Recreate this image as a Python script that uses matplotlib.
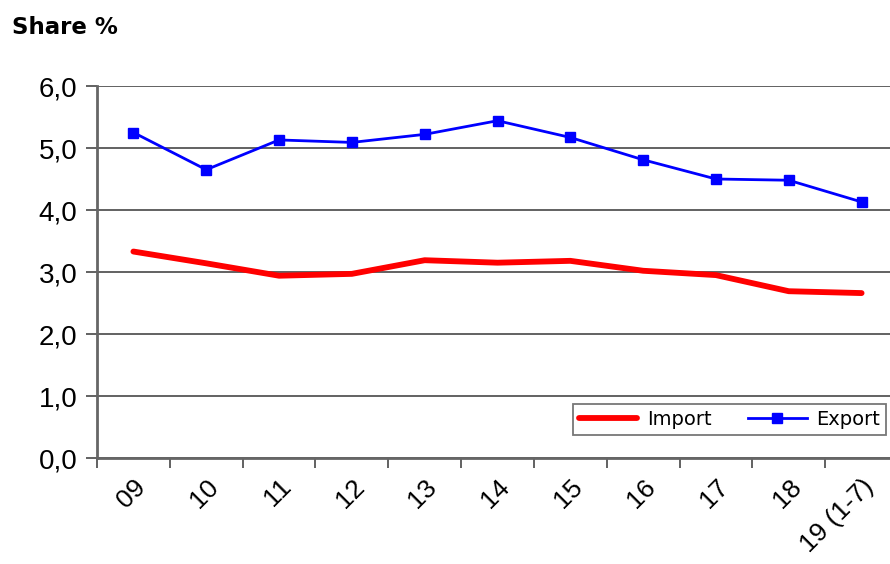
import matplotlib
matplotlib.use("Agg")
import matplotlib.pyplot as plt
import numpy as np

# data
years = ["09", "10", "11", "12", "13", "14", "15", "16", "17", "18", "19 (1-7)"]
import_share = [3.33, 3.14, 2.94, 2.97, 3.19, 3.15, 3.18, 3.02, 2.95, 2.69, 2.66]
export_share = [5.25, 4.65, 5.13, 5.09, 5.22, 5.44, 5.17, 4.81, 4.50, 4.48, 4.13]
y_ticks = [0, 1, 2, 3, 4, 5, 6]

plt.rcParams['font.family'] = ['Liberation Sans', 'DejaVu Sans']

fig = plt.figure(figsize=(8.9, 5.64), dpi=100)
# axes runs past the right edge, like the cropped original
ax = fig.add_axes([97/890, 1 - 458/564, 801/890, 372/564])

x = np.arange(len(years))
ax.plot(x, import_share, color='#ff0000', lw=4.2, label='Import', zorder=3,
        solid_capstyle='round')
ax.plot(x, export_share, color='#0000ff', lw=2.0, marker='s', ms=7,
        label='Export', zorder=4)

ax.set_xlim(-0.5, len(years) - 0.5)
ax.set_ylim(0, 6)

ax.set_yticks(y_ticks)
ax.set_yticklabels([f"{v:.1f}".replace('.', ',') for v in y_ticks], fontsize=20)
ax.yaxis.grid(True, color='#555555', lw=1.3)
ax.set_axisbelow(True)

ax.set_xticks(x)
ax.set_xticklabels(years, fontsize=19, rotation=45, ha='right',
                   rotation_mode='anchor')
ax.set_xticks(np.arange(-0.5, len(years), 1.0), minor=True)
ax.tick_params(axis='x', which='major', length=0, pad=12)
ax.tick_params(axis='x', which='minor', length=7, width=1.3, color='#555555')
ax.tick_params(axis='y', length=8, width=1.3, color='#555555', pad=6)

for s in ['top', 'right']:
    ax.spines[s].set_visible(False)
for s in ['left', 'bottom']:
    ax.spines[s].set_color('#666666')
    ax.spines[s].set_linewidth(2)

fig.text(12/890, 1 - 28/564, "Share %", fontsize=16.5, fontweight='bold',
         family='DejaVu Sans', va='center', ha='left')

leg = ax.legend(loc='lower right', bbox_to_anchor=(886/890, 1 - 435/564),
                bbox_transform=fig.transFigure, ncol=2, borderaxespad=0,
                frameon=True, fancybox=False, borderpad=0.3,
                handlelength=3.0, columnspacing=1.9, handletextpad=0.5,
                prop={'family': 'DejaVu Sans', 'size': 14})
leg.get_frame().set_edgecolor('#555555')
leg.get_frame().set_linewidth(1.3)

fig.savefig("out.png", dpi=100)
